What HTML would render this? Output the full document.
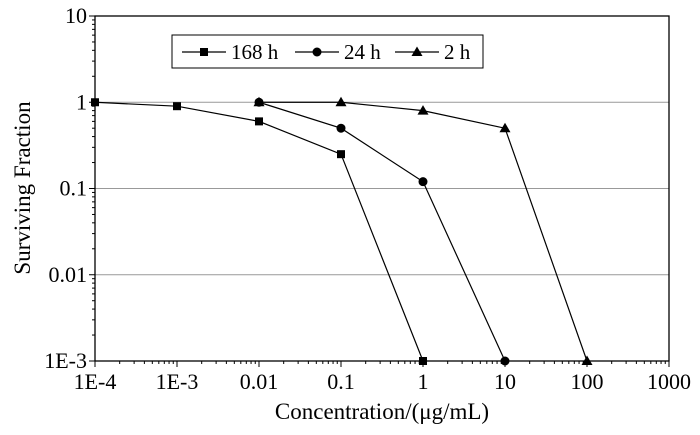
<!DOCTYPE html>
<html><head><meta charset="utf-8"><style>
html,body{margin:0;padding:0;background:#fff;}
svg, svg text{font-family:"Liberation Serif","DejaVu Serif","Times New Roman",serif;}
</style></head><body>
<svg id="chart" width="700" height="430"></svg>
<script>
const xTicks=[1e-4,1e-3,0.01,0.1,1,10,100,1000];
const xTickLabels=["1E-4","1E-3","0.01","0.1","1","10","100","1000"];
const yTicks=[1e-3,0.01,0.1,1,10];
const yTickLabels=["1E-3","0.01","0.1","1","10"];
const x168=[1e-4,1e-3,0.01,0.1,1];
const y168=[1,0.9,0.6,0.25,0.001];
const x24=[0.01,0.1,1,10];
const y24=[1,0.5,0.12,0.001];
const x2=[0.01,0.1,1,10,100];
const y2=[1,1,0.8,0.5,0.001];

const NS="http://www.w3.org/2000/svg";
const svg=document.getElementById('chart');
const FONT='"Liberation Serif","DejaVu Serif",serif';
const L=95,R=669,T=16,B=361;
const xs=v=>L+(Math.log10(v)+4)/7*(R-L);
const ys=v=>B-(Math.log10(v)+3)/4*(B-T);
function mk(tag,attrs,parent){const e=document.createElementNS(NS,tag);for(const k in attrs)e.setAttribute(k,attrs[k]);if(tag==='text')e.setAttribute('font-family',FONT);(parent||svg).appendChild(e);return e;}

[1,0.1,0.01].forEach(v=>{
  const g=mk('line',{x1:L,x2:R,y1:ys(v),y2:ys(v),stroke:'#999','stroke-width':1});
  
  
});
const fr=mk('rect',{x:L,y:T,width:R-L,height:B-T,fill:'none',stroke:'#000','stroke-width':1.3});



xTicks.forEach((v,i)=>{
  mk('line',{x1:xs(v),x2:xs(v),y1:B,y2:B+6,stroke:'#000'});
  if(i<xTicks.length-1){for(let m=2;m<10;m++){const xx=xs(v*m);mk('line',{x1:xx,x2:xx,y1:B,y2:B+3,stroke:'#000'});}}
  const t=mk('text',{x:xs(v),y:B+28,'text-anchor':'middle','font-size':22});
  t.textContent=xTickLabels[i];
  
  
});
yTicks.forEach((v,i)=>{
  mk('line',{x1:L-6,x2:L,y1:ys(v),y2:ys(v),stroke:'#000'});
  if(i<yTicks.length-1){for(let m=2;m<10;m++){const yy=ys(v*m);mk('line',{x1:L-3,x2:L,y1:yy,y2:yy,stroke:'#000'});}}
  const t=mk('text',{x:L-8,y:ys(v)+7,'text-anchor':'end','font-size':22});
  t.textContent=yTickLabels[i];
  
  
});
const xt=mk('text',{x:382,y:419,'text-anchor':'middle','font-size':23});
xt.textContent='Concentration/(\u03bcg/mL)';


const yt=mk('text',{x:0,y:0,'text-anchor':'middle','font-size':23,transform:'translate(30,188) rotate(-90)'});
yt.textContent='Surviving Fraction';



function marker(shape,cx,cy,parent){
  if(shape==='sq')return mk('rect',{x:cx-4,y:cy-4,width:8,height:8,fill:'#000'},parent);
  if(shape==='ci')return mk('circle',{cx:cx,cy:cy,r:4.5,fill:'#000'},parent);
  return mk('polygon',{points:`${cx},${cy-5.5} ${cx+5.5},${cy+4} ${cx-5.5},${cy+4}`,fill:'#000'},parent);
}
function series(xa,ya,shape,name){
  const g=mk('g',{});
  
  
  mk('polyline',{points:xa.map((v,i)=>xs(v)+','+ys(ya[i])).join(' '),fill:'none',stroke:'#000','stroke-width':1.2},g);
  xa.forEach((v,i)=>{const m=marker(shape,xs(v),ys(ya[i]),g);
    
    });
}
series(x168,y168,'sq','series-168h');
series(x24,y24,'ci','series-24h');
series(x2,y2,'tr','series-2h');

const lg=mk('g',{});


mk('rect',{x:172,y:35,width:311,height:33,fill:'#fff',stroke:'#000','stroke-width':1},lg);
[['sq','168h',182],['ci','24h',295],['tr','2h',395]].forEach(([s,lab,x0])=>{
  const e=mk('g',{},lg);
  
  
  mk('line',{x1:x0,x2:x0+44,y1:52,y2:52,stroke:'#000','stroke-width':1.2},e);
  marker(s,x0+22,52,e);
  const t=mk('text',{x:x0+49,y:59,'font-size':21},e);
  t.textContent=lab.replace('h',' h');
});
</script>
</body></html>
